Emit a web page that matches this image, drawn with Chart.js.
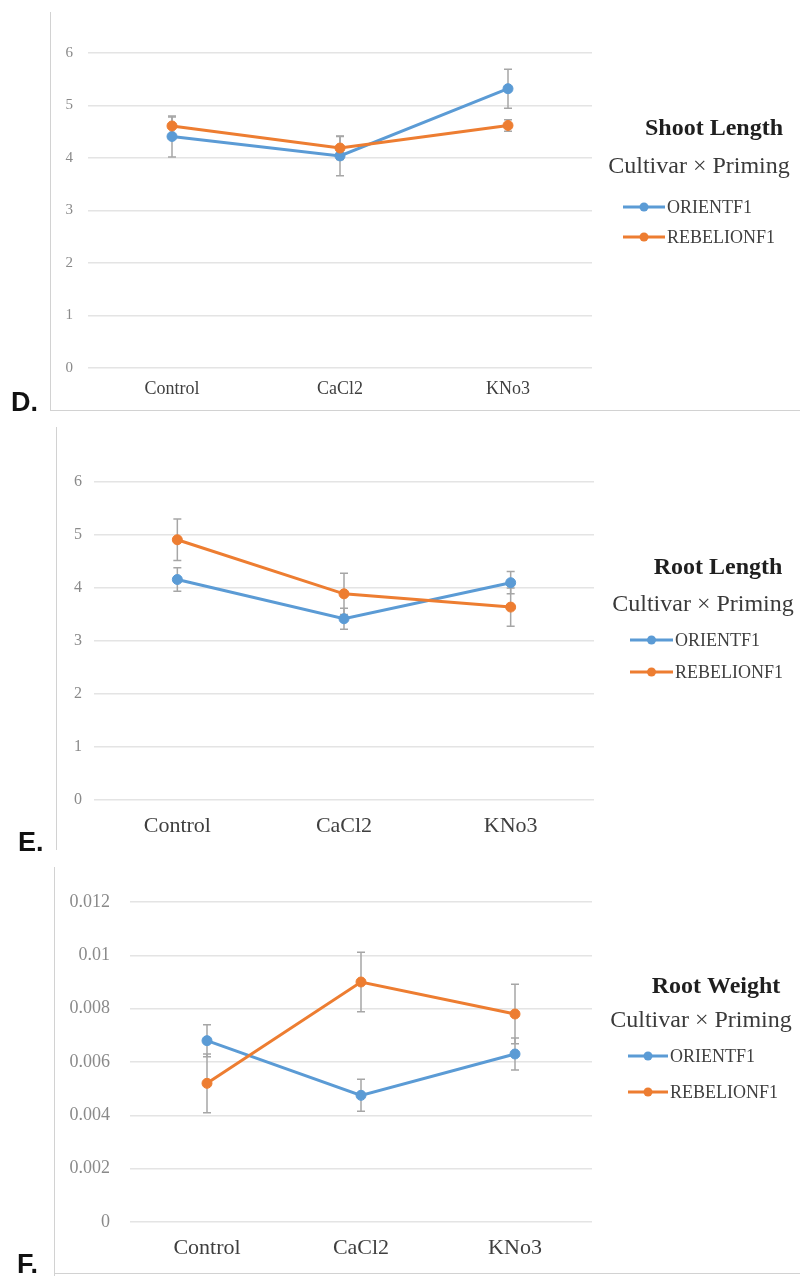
<!DOCTYPE html>
<html>
<head>
<meta charset="utf-8">
<title>Cultivar × Priming</title>
<script src="https://cdn.jsdelivr.net/npm/chart.js@4.4.1/dist/chart.umd.min.js"></script>
<style>
  html, body { margin: 0; padding: 0; background: #ffffff; }
  body { width: 800px; height: 1276px; position: relative; overflow: hidden; }
  .panel { position: absolute; left: 0; width: 800px; }
  .panel canvas { position: absolute; left: 0; top: 0; }
  .rule-v { position: absolute; width: 1px; background: #d2d2d2; }
  .rule-h { position: absolute; height: 1px; background: #d2d2d2; }
  .tag { position: absolute; font: bold 27px "Liberation Sans", Arial, sans-serif; color: #111111; line-height: 1; }
</style>
</head>
<body>

<div class="panel" style="top:0;height:420px;"><canvas id="shoot" width="800" height="420"></canvas></div>
<div class="panel" style="top:420px;height:440px;"><canvas id="rootLen" width="800" height="440"></canvas></div>
<div class="panel" style="top:850px;height:426px;"><canvas id="rootWt" width="800" height="426"></canvas></div>

<div class="rule-v" style="left:50px;top:12px;height:398px;"></div>
<div class="rule-h" style="left:50px;top:410px;width:750px;"></div>
<div class="rule-v" style="left:56px;top:427px;height:423px;"></div>
<div class="rule-v" style="left:54px;top:867px;height:409px;"></div>
<div class="rule-h" style="left:54px;top:1273px;width:746px;"></div>

<div class="tag" style="left:11px;top:389px;">D.</div>
<div class="tag" style="left:18px;top:829px;">E.</div>
<div class="tag" style="left:17px;top:1251px;">F.</div>

<script>
// Treatments on the x axis and the two cultivars
const treatments = ['Control', 'CaCl2', 'KNo3'];
const cultivars = ['ORIENTF1', 'REBELIONF1'];
const cultivarColors = ['#5b9bd5', '#ed7d31'];

// Shoot length (means and standard errors)
const shootOrient = [4.41, 4.04, 5.32];
const shootOrientErr = [0.39, 0.38, 0.37];
const shootRebelion = [4.61, 4.19, 4.62];
const shootRebelionErr = [0.17, 0.22, 0.11];

// Root length
const rootLenOrient = [4.16, 3.42, 4.10];
const rootLenOrientErr = [0.22, 0.20, 0.21];
const rootLenRebelion = [4.91, 3.89, 3.64];
const rootLenRebelionErr = [0.39, 0.39, 0.36];

// Root weight
const rootWtOrient = [0.0068, 0.00475, 0.0063];
const rootWtOrientErr = [0.0006, 0.0006, 0.0006];
const rootWtRebelion = [0.0052, 0.0090, 0.0078];
const rootWtRebelionErr = [0.0011, 0.00112, 0.00112];

// Vertical error bars with caps, placed through the y scale
const errorBars = {
  id: 'errorBars',
  beforeDatasetsDraw(chart) {
    const ctx = chart.ctx;
    const yScale = chart.scales.y;
    ctx.save();
    ctx.strokeStyle = '#a6a6a6';
    ctx.lineWidth = 1.5;
    chart.data.datasets.forEach((ds, i) => {
      const meta = chart.getDatasetMeta(i);
      meta.data.forEach((pt, j) => {
        const v = ds.data[j];
        const e = ds.errors[j];
        const top = yScale.getPixelForValue(v + e);
        const bot = yScale.getPixelForValue(v - e);
        ctx.beginPath();
        ctx.moveTo(pt.x, top); ctx.lineTo(pt.x, bot);
        ctx.moveTo(pt.x - 4, top); ctx.lineTo(pt.x + 4, top);
        ctx.moveTo(pt.x - 4, bot); ctx.lineTo(pt.x + 4, bot);
        ctx.stroke();
      });
    });
    ctx.restore();
  }
};

// Title, legend heading and series keys drawn to the right of the plot
const sideLegend = {
  id: 'sideLegend',
  afterDraw(chart, args, o) {
    const ctx = chart.ctx;
    ctx.save();
    ctx.textBaseline = 'middle';
    ctx.textAlign = 'center';
    ctx.fillStyle = '#1f1f1f';
    ctx.font = 'bold 24px "Liberation Serif", "Times New Roman", serif';
    ctx.fillText(o.title, o.titleX, o.titleY);
    ctx.fillStyle = '#3a3a3a';
    ctx.font = '24px "Liberation Serif", "Times New Roman", serif';
    ctx.fillText(o.subtitle, o.subX, o.subY);
    ctx.textAlign = 'left';
    ctx.font = '18px "Liberation Serif", "Times New Roman", serif';
    cultivars.forEach((name, i) => {
      const y = o.itemY[i];
      const color = cultivarColors[i];
      ctx.strokeStyle = color;
      ctx.lineWidth = 3;
      ctx.beginPath();
      ctx.moveTo(o.lineX0, y); ctx.lineTo(o.lineX1, y);
      ctx.stroke();
      ctx.fillStyle = color;
      ctx.beginPath();
      ctx.arc((o.lineX0 + o.lineX1) / 2, y, 4.5, 0, Math.PI * 2);
      ctx.fill();
      ctx.fillStyle = '#404040';
      ctx.fillText(name, o.lineX1 + 2, y + 1);
    });
    ctx.restore();
  }
};

function series(values, errors, idx) {
  const c = cultivarColors[idx];
  return {
    label: cultivars[idx],
    data: values,
    errors: errors,
    borderColor: c,
    backgroundColor: c,
    pointBackgroundColor: c,
    pointBorderColor: c,
    pointBorderWidth: 1,
    pointRadius: 5,
    borderWidth: 3,
    tension: 0,
    order: idx === 0 ? 1 : 0
  };
}

function makePanel(id, cfg) {
  new Chart(document.getElementById(id), {
    type: 'line',
    data: {
      labels: treatments,
      datasets: [series(cfg.a, cfg.aErr, 0), series(cfg.b, cfg.bErr, 1)]
    },
    options: {
      responsive: false,
      animation: false,
      layout: { padding: { top: cfg.top, right: cfg.right, bottom: 0, left: 0 } },
      plugins: {
        legend: { display: false },
        tooltip: { enabled: false },
        sideLegend: cfg.legend
      },
      scales: {
        x: {
          type: 'category',
          offset: true,
          grid: { display: false, drawTicks: false },
          border: { display: false },
          ticks: {
            padding: cfg.xPad,
            color: '#3f3f3f',
            font: { family: '"Liberation Serif", "Times New Roman", serif', size: cfg.xFont }
          },
          afterFit(s) { s.height = cfg.xHeight; }
        },
        y: {
          min: 0,
          max: cfg.max,
          grid: { color: '#e4e4e4', lineWidth: 1.5, drawTicks: false },
          border: { display: false },
          ticks: {
            stepSize: cfg.step,
            padding: cfg.yPad,
            color: '#8a8a8a',
            font: { family: '"Liberation Serif", "Times New Roman", serif', size: cfg.yFont },
            callback: (v) => String(Number(v.toFixed(4)))
          },
          afterFit(s) { s.width = cfg.yWidth; }
        }
      }
    },
    plugins: [errorBars, sideLegend]
  });
}

makePanel('shoot', {
  a: shootOrient, aErr: shootOrientErr, b: shootRebelion, bErr: shootRebelionErr,
  max: 6, step: 1,
  top: 53, right: 208, yWidth: 88, xHeight: 52,
  yPad: 15, yFont: 15, xPad: 10, xFont: 18,
  legend: { title: 'Shoot Length', subtitle: 'Cultivar × Priming',
            titleX: 714, titleY: 129, subX: 699, subY: 167,
            lineX0: 623, lineX1: 665, itemY: [207, 237] }
});

makePanel('rootLen', {
  a: rootLenOrient, aErr: rootLenOrientErr, b: rootLenRebelion, bErr: rootLenRebelionErr,
  max: 6, step: 1,
  top: 62, right: 206, yWidth: 94, xHeight: 60,
  yPad: 12, yFont: 16, xPad: 13, xFont: 22,
  legend: { title: 'Root Length', subtitle: 'Cultivar × Priming',
            titleX: 718, titleY: 148, subX: 703, subY: 185,
            lineX0: 630, lineX1: 673, itemY: [220, 252] }
});

makePanel('rootWt', {
  a: rootWtOrient, aErr: rootWtOrientErr, b: rootWtRebelion, bErr: rootWtRebelionErr,
  max: 0.012, step: 0.002,
  top: 52, right: 208, yWidth: 130, xHeight: 54,
  yPad: 20, yFont: 18, xPad: 13, xFont: 22,
  legend: { title: 'Root Weight', subtitle: 'Cultivar × Priming',
            titleX: 716, titleY: 137, subX: 701, subY: 171,
            lineX0: 628, lineX1: 668, itemY: [206, 242] }
});
</script>
</body>
</html>
